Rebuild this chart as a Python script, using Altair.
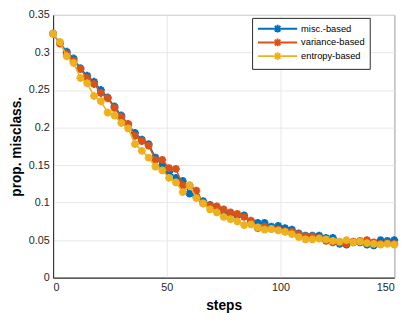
import altair as alt
import pandas as pd

steps = list(range(0, 151, 3))

misc_based = [0.325, 0.313, 0.301, 0.292, 0.279, 0.269, 0.261, 0.250, 0.240, 0.228,
              0.216, 0.204, 0.193, 0.184, 0.178, 0.160, 0.150, 0.141, 0.133, 0.129,
              0.112, 0.108, 0.102, 0.097, 0.092, 0.087, 0.085, 0.083, 0.083, 0.075,
              0.073, 0.073, 0.068, 0.069, 0.066, 0.064, 0.059, 0.056, 0.056, 0.056,
              0.053, 0.053, 0.045, 0.044, 0.047, 0.047, 0.044, 0.043, 0.050, 0.049,
              0.050]

variance_based = [0.325, 0.312, 0.298, 0.289, 0.278, 0.266, 0.258, 0.246, 0.239, 0.226,
                  0.214, 0.205, 0.189, 0.182, 0.176, 0.157, 0.157, 0.146, 0.145, 0.123,
                  0.123, 0.116, 0.099, 0.096, 0.095, 0.091, 0.087, 0.085, 0.081, 0.076,
                  0.066, 0.068, 0.065, 0.064, 0.062, 0.061, 0.058, 0.055, 0.055, 0.053,
                  0.049, 0.047, 0.047, 0.045, 0.048, 0.049, 0.050, 0.047, 0.045, 0.046,
                  0.045]

entropy_based = [0.325, 0.314, 0.295, 0.286, 0.266, 0.259, 0.242, 0.235, 0.220, 0.216,
                 0.206, 0.199, 0.178, 0.169, 0.160, 0.148, 0.143, 0.133, 0.127, 0.114,
                 0.123, 0.106, 0.099, 0.091, 0.087, 0.081, 0.078, 0.075, 0.070, 0.071,
                 0.067, 0.064, 0.065, 0.063, 0.061, 0.058, 0.054, 0.051, 0.051, 0.052,
                 0.051, 0.049, 0.048, 0.050, 0.047, 0.048, 0.046, 0.045, 0.044, 0.045,
                 0.044]

names = ["misc.-based", "variance-based", "entropy-based"]
colors = ["#0072BD", "#D95319", "#EDB120"]
x_ticks = [0, 50, 100, 150]
y_ticks = [0, 0.05, 0.1, 0.15, 0.2, 0.25, 0.3, 0.35]

rows = []
for n, vals in zip(names, [misc_based, variance_based, entropy_based]):
    for s, v in zip(steps, vals):
        rows.append({"step": s, "val": v, "method": n})
df = pd.DataFrame(rows)

asterisk = "M-1,0L1,0M0,-1L0,1M-0.7,-0.7L0.7,0.7M-0.7,0.7L0.7,-0.7"
legend_symbol = ("M-1,0L7,0M2.2,0L3.8,0M3,-0.8L3,0.8"
                 "M2.43,-0.57L3.57,0.57M2.43,0.57L3.57,-0.57")

legend = alt.Legend(
    title=None, orient="none", legendX=203, legendY=3,
    fillColor="white", strokeColor="#262626", padding=5,
    labelFont="Liberation Sans", labelFontSize=9.5, labelColor="#000000",
    symbolType=legend_symbol, symbolSize=100, symbolStrokeWidth=2,
    labelOffset=33, rowPadding=-3,
)
color = alt.Color("method:N", scale=alt.Scale(domain=names, range=colors), legend=legend)
x = alt.X("step:Q", scale=alt.Scale(domain=[0, 150], nice=False),
          axis=alt.Axis(values=x_ticks, title="steps", titlePadding=6))
y = alt.Y("val:Q", scale=alt.Scale(domain=[0, 0.35], nice=False),
          axis=alt.Axis(values=y_ticks, format="~g", title="prop. misclass.", titlePadding=5))

layers = []
for n in names:
    base = alt.Chart(df).transform_filter(alt.datum.method == n)
    layers.append(base.mark_line(strokeWidth=1.5).encode(x=x, y=y, color=color))
    layers.append(base.mark_point(shape=asterisk, size=64, filled=False, strokeWidth=2.4,
                                  opacity=1).encode(x=x, y=y, color=color))

chart = alt.layer(*layers).properties(
    width=348, height=268,
    padding={"left": 46, "top": 4, "right": 12, "bottom": 36},
    autosize=alt.AutoSizeParams(type="none"),
).configure_view(
    stroke="#262626", strokeWidth=1
).configure_axis(
    labelFont="Liberation Sans", labelFontSize=11, labelColor="#262626",
    titleFont="Liberation Sans", titleFontSize=14, titleFontWeight="bold", titleColor="#000000",
    domainColor="#262626", gridColor="#e6e6e6", ticks=False, labelPadding=4,
)

chart.save("out.html", embed_options={"renderer": "svg", "actions": False})
